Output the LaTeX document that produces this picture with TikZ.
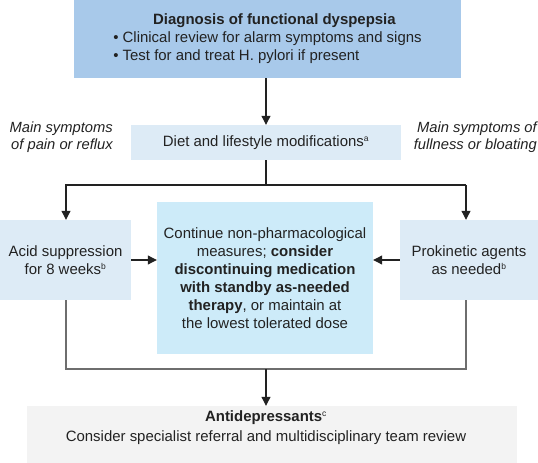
\documentclass[tikz,border=0pt]{standalone}
\usepackage{fontspec}
\setmainfont{Liberation Sans}
\usetikzlibrary{arrows.meta}
\definecolor{topblue}{HTML}{A8C9EA}
\definecolor{lightblue}{HTML}{DDEBF6}
\definecolor{centerblue}{HTML}{CDEBF9}
\definecolor{greybox}{HTML}{F3F3F3}
\definecolor{txt}{HTML}{222222}
\definecolor{lnc}{HTML}{222222}
\definecolor{glc}{HTML}{6E6E6E}
\newcommand\sups[1]{\textsuperscript{\fontsize{8.5}{8.5}\selectfont #1}}
\begin{document}
\begin{tikzpicture}[x=1bp,y=-1bp,
  every node/.style={font=\fontsize{15}{18}\selectfont, text=txt},
  box/.style={inner sep=0pt, align=center},
  lab/.style={font=\fontsize{14.8}{17.5}\selectfont\itshape, inner sep=0pt, align=right},
  conn/.style={draw=lnc, line width=1.1bp},
  arr/.style={conn, -{Triangle[length=9bp,width=9bp]}},
  gconn/.style={draw=glc, line width=1.3bp}
]
\useasboundingbox (0,0) rectangle (538,463);
\node[box, fill=topblue, minimum width=387bp, minimum height=78bp] (diag) at (267.5,39)
  {\begin{tabular}{@{}l@{}}\multicolumn{1}{c}{\hspace{14pt}\textbf{Diagnosis of functional dyspepsia}}\\
   • Clinical review for alarm symptoms and signs\\
   • Test for and treat H. pylori if present\end{tabular}};
\node[box, fill=lightblue, minimum width=270bp, minimum height=35bp] (diet) at (266,142.5)
  {Diet and lifestyle modifications\sups{a}};
\node[lab, anchor=east] (painlab) at (113,137) {Main symptoms\\of pain or reflux};
\node[lab, anchor=east] (fulllab) at (537,137) {Main symptoms of\\fullness or bloating};
\node[box, fill=lightblue, minimum width=131bp, minimum height=80bp] (acid) at (65.5,260)
  {Acid suppression\\for 8 weeks\sups{b}};
\node[box, fill=lightblue, minimum width=138bp, minimum height=80bp] (prok) at (469,260)
  {Prokinetic agents\\as needed\sups{b}};
\node[box, fill=centerblue, minimum width=216bp, minimum height=152bp] (cont) at (265,278)
  {Continue non-pharmacological\\measures; \textbf{consider}\\\textbf{discontinuing medication}\\\textbf{with standby as-needed}\\\textbf{therapy}, or maintain at\\the lowest tolerated dose};
\node[box, fill=greybox, minimum width=490bp, minimum height=57bp] (anti) at (272,434.5) {};
\node[box, font=\fontsize{15}{20}\selectfont] (antitext) at (266,428)
  {\textbf{Antidepressants}\sups{c}\\Consider specialist referral and multidisciplinary team review};
\coordinate (jl) at (66,185);
\coordinate (jr) at (466,185);
\coordinate (bl) at (66,369);
\coordinate (br) at (466,369);
\coordinate (bm) at (266,369);
\draw[arr] (diet.north |- diag.south) -- (diet.north);
\draw[conn] (diet.south) -- (diet.south |- jl);
\draw[arr] (jr) -- (jl) -- (jl |- acid.north);
\draw[arr] (jr) -- (jr |- prok.north);
\draw[arr] (acid.east) -- (acid.east -| cont.west);
\draw[arr] (prok.west) -- (prok.west -| cont.east);
\draw[gconn] (jl |- acid.south) -- (bl) -- (br) -- (jr |- prok.south);
\draw[arr] (bm) -- (bm |- anti.north);
\end{tikzpicture}
\end{document}
